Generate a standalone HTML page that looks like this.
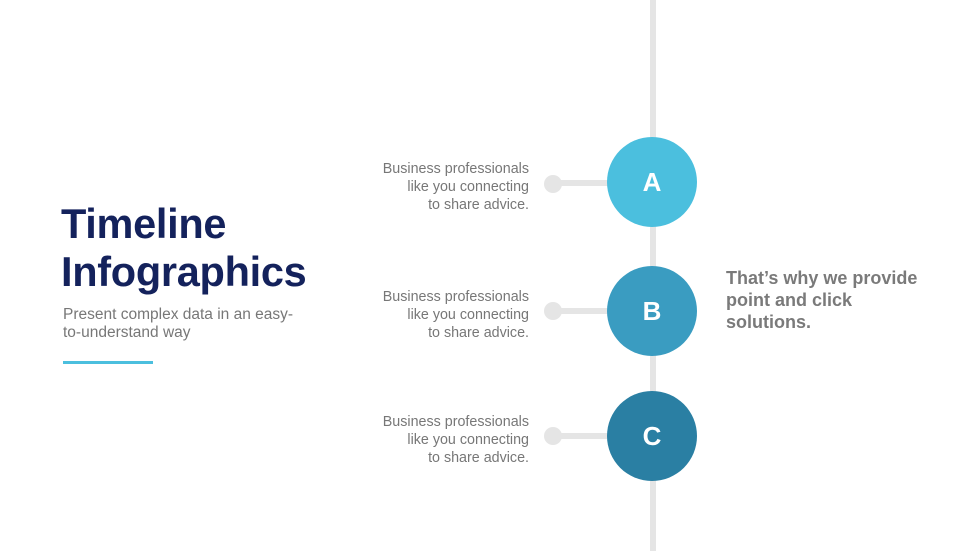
<!DOCTYPE html>
<html><head><style>
body{margin:0;width:980px;height:551px;background:#fff;position:relative;overflow:hidden;font-family:"Liberation Sans",sans-serif}
.a{position:absolute}
.t{color:#14225c;font-weight:bold;font-size:41.5px;line-height:48px;left:61px;top:200px;letter-spacing:-0.3px}
.s{color:#777;font-size:15.5px;line-height:18px;left:63px;top:306px}
.l{right:451px;text-align:right;color:#777;font-size:14.3px;line-height:18px}
.c{width:90px;height:90px;border-radius:50%;left:607px;color:#fff;font-weight:bold;font-size:26px;line-height:90px;text-align:center}
.h{left:560px;width:50px;height:6px;background:#e5e5e5}
.d{left:544px;width:18px;height:18px;border-radius:50%;background:#e5e5e5}
</style></head><body>
<div class="a" style="left:650px;top:0;width:6px;height:551px;background:#e5e5e5"></div>
<div class="a t">Timeline<br>Infographics</div>
<div class="a s">Present complex data in an easy-<br>to-understand way</div>
<div class="a" style="left:63px;top:361px;width:90px;height:3px;background:#4bbfde"></div>

<div class="a l" style="top:160px">Business professionals<br>like you connecting<br>to share advice.</div>
<div class="a h" style="top:180px"></div><div class="a d" style="top:175px"></div>
<div class="a c" style="top:137px;background:#4bbfde">A</div>

<div class="a l" style="top:288px">Business professionals<br>like you connecting<br>to share advice.</div>
<div class="a h" style="top:308px"></div><div class="a d" style="top:302px"></div>
<div class="a c" style="top:266px;background:#3a9cc1">B</div>

<div class="a l" style="top:413px">Business professionals<br>like you connecting<br>to share advice.</div>
<div class="a h" style="top:433px"></div><div class="a d" style="top:427px"></div>
<div class="a c" style="top:391px;background:#2a7fa3">C</div>

<div class="a" style="left:726px;top:267px;color:#7a7a7a;font-weight:bold;font-size:18px;line-height:22px">That’s why we provide<br>point and click<br>solutions.</div>
</body></html>
